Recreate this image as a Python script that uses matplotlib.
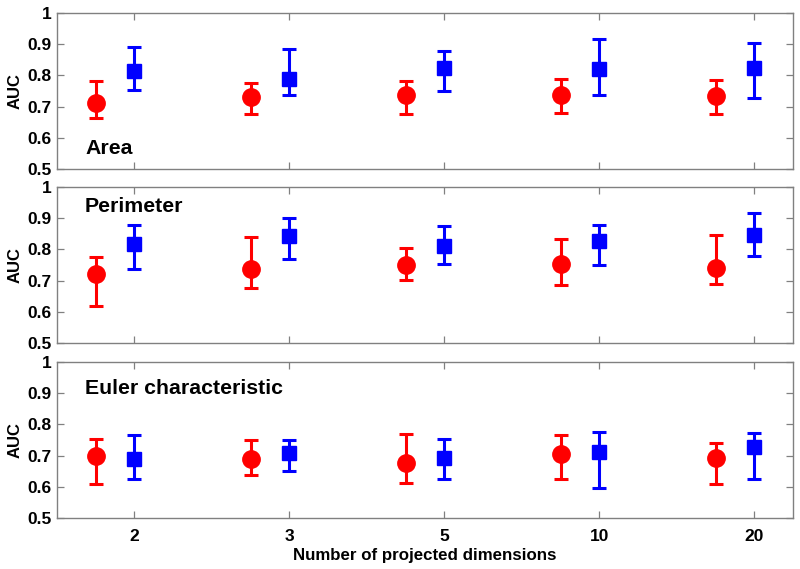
import matplotlib
matplotlib.use("Agg")
import matplotlib.pyplot as plt
import numpy as np

plt.rcParams['font.family'] = ['Liberation Sans', 'DejaVu Sans']
plt.rcParams['font.weight'] = 'bold'

dims = ["2", "3", "5", "10", "20"]
panels = ["Area", "Perimeter", "Euler characteristic"]

red_mean = [
    [0.713, 0.730, 0.738, 0.737, 0.733],
    [0.722, 0.738, 0.750, 0.753, 0.741],
    [0.698, 0.689, 0.675, 0.706, 0.692],
]
red_hi = [
    [0.781, 0.777, 0.781, 0.788, 0.786],
    [0.775, 0.840, 0.805, 0.832, 0.845],
    [0.754, 0.751, 0.768, 0.767, 0.739],
]
red_lo = [
    [0.662, 0.675, 0.675, 0.678, 0.675],
    [0.617, 0.677, 0.701, 0.687, 0.688],
    [0.610, 0.637, 0.612, 0.624, 0.610],
]
blue_mean = [
    [0.814, 0.790, 0.823, 0.822, 0.823],
    [0.816, 0.842, 0.810, 0.828, 0.847],
    [0.688, 0.707, 0.692, 0.713, 0.726],
]
blue_hi = [
    [0.891, 0.885, 0.878, 0.916, 0.905],
    [0.879, 0.902, 0.876, 0.879, 0.918],
    [0.767, 0.749, 0.753, 0.777, 0.771],
]
blue_lo = [
    [0.754, 0.738, 0.751, 0.737, 0.729],
    [0.737, 0.770, 0.754, 0.751, 0.780],
    [0.625, 0.650, 0.626, 0.597, 0.626],
]

W, H = 800, 569
fig = plt.figure(figsize=(W / 100, H / 100), dpi=100)

left, right = 57, 793
tops = [13, 187, 362]
ph = 156
label_y = [148, 207, 388]

x = np.arange(1, len(dims) + 1)
spine_c = '#808080'

for k in range(3):
    ax = fig.add_axes([left / W, 1 - (tops[k] + ph) / H, (right - left) / W, ph / H])
    rm = np.array(red_mean[k]); bm = np.array(blue_mean[k])
    ax.errorbar(x - 0.25, rm, yerr=[rm - np.array(red_lo[k]), np.array(red_hi[k]) - rm],
                fmt='o', color='#ff0000', ecolor='#ff0000', markersize=12.5,
                elinewidth=2.2, capsize=5.3, capthick=2.2)
    ax.errorbar(x, bm, yerr=[bm - np.array(blue_lo[k]), np.array(blue_hi[k]) - bm],
                fmt='s', color='#0000ff', ecolor='#0000ff', markersize=9.5,
                elinewidth=2.2, capsize=5.3, capthick=2.2)
    ax.set_xlim(0.5, 5.25)
    ax.set_ylim(0.5, 1.0)
    ax.set_yticks([0.5, 0.6, 0.7, 0.8, 0.9, 1.0])
    ax.set_yticklabels(["0.5", "0.6", "0.7", "0.8", "0.9", "1"])
    ax.set_xticks(x)
    if k == 2:
        ax.set_xticklabels(dims)
        ax.set_xlabel("Number of projected dimensions", fontsize=12.2, fontweight='bold', labelpad=3)
    else:
        ax.set_xticklabels([])
    ax.set_ylabel("AUC", fontsize=12, fontweight='bold', labelpad=3)
    ax.tick_params(direction='in', length=5, width=0.9, color=spine_c,
                   top=True, right=True, labelsize=12.5, pad=4)
    ax.tick_params(axis='x', pad=8)
    for lab in ax.get_xticklabels() + ax.get_yticklabels():
        lab.set_fontweight('bold')
    for s in ax.spines.values():
        s.set_color(spine_c)
        s.set_linewidth(1.0)
    ax.text((85 - left) / (right - left), 1 - (label_y[k] - tops[k]) / ph, panels[k],
            transform=ax.transAxes, fontsize=15.3, fontweight='bold', va='center', ha='left')

fig.savefig("out.png", dpi=100)
